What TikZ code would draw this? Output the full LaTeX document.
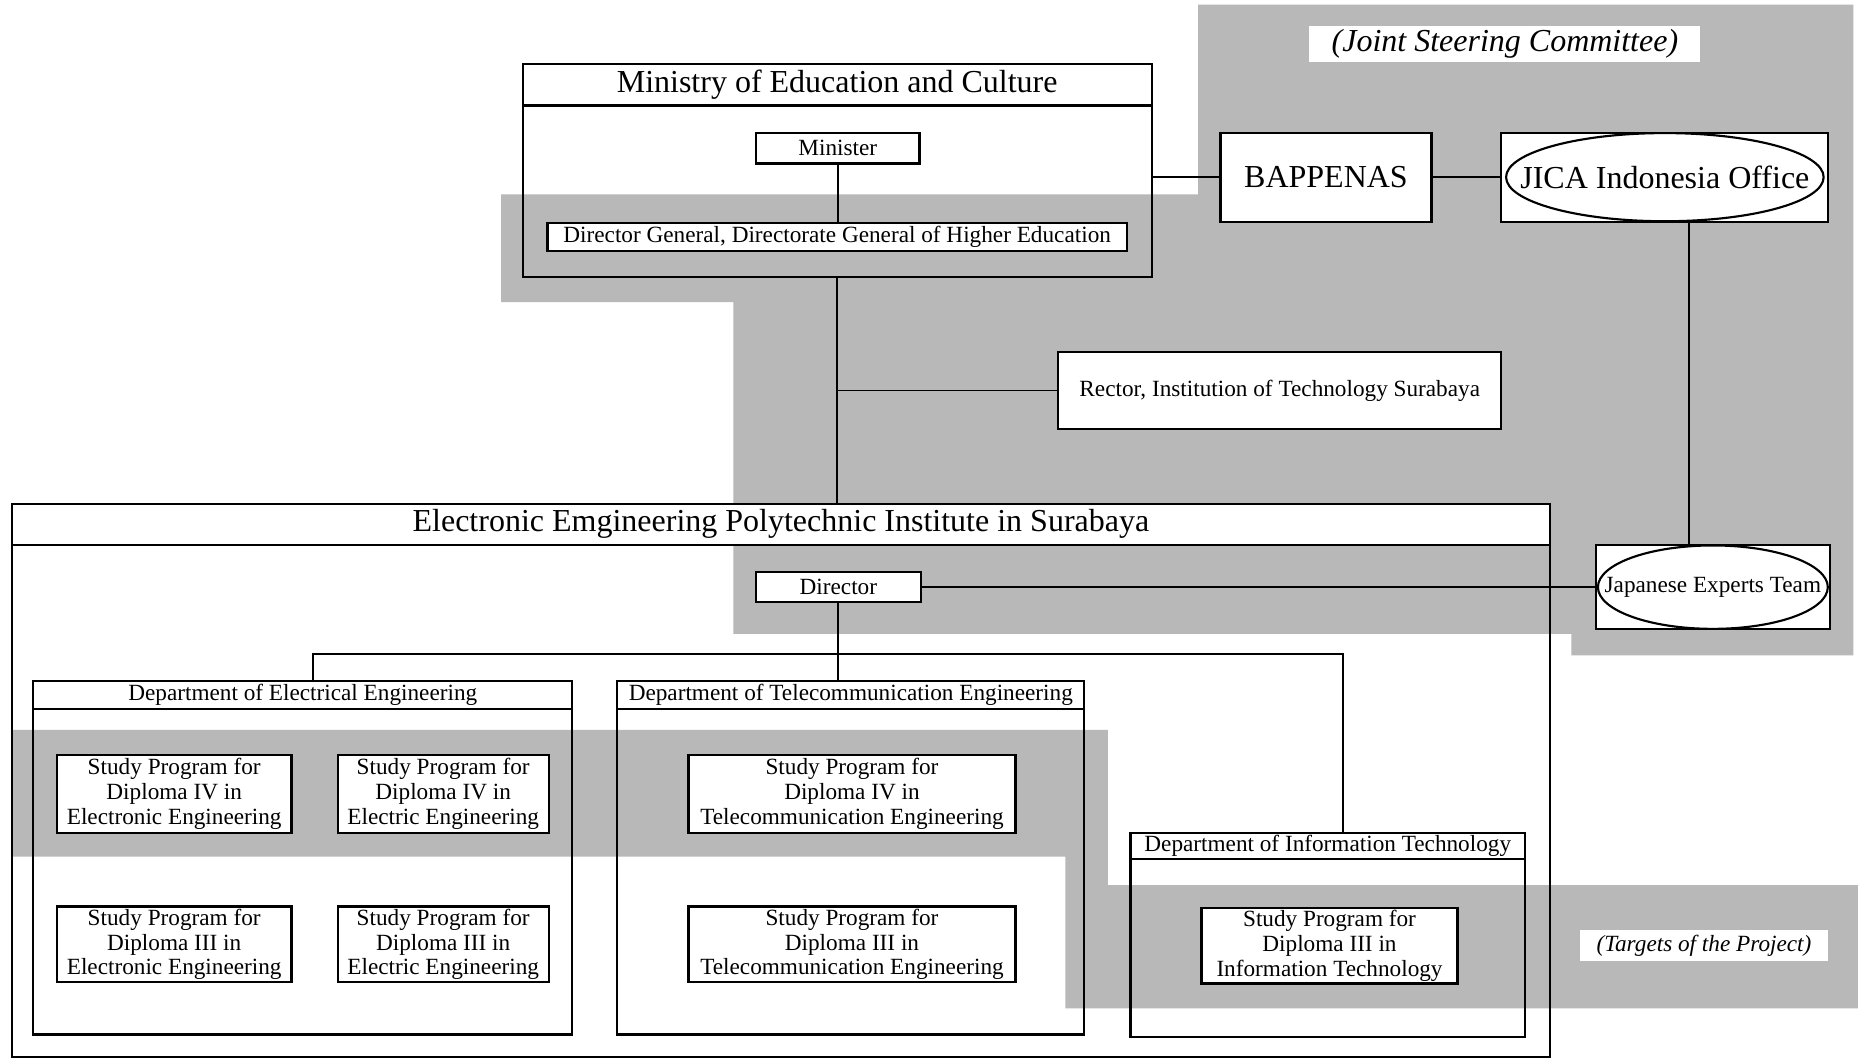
\documentclass[tikz,border=0pt]{standalone}
\usepackage{fontspec}
\setmainfont{Liberation Serif}
\begin{document}
\newcommand\bx[7][]{\node[#1,minimum width={(#5-#3)*0.5pt},minimum height={(#6-#4)*0.5pt}] (#2) at ({(#3+#5)/2},{(#4+#6)/2}) {#7};}
\begin{tikzpicture}[x=0.5pt,y=-0.5pt,
  every node/.style={inner sep=0pt,outer sep=0pt},
  shade/.style={fill=black!28,draw=none},
  frame/.style={draw,line width=0.9pt},
  box/.style={draw,line width=0.9pt,fill=white,align=center,font=\fontsize{9.8}{10.5}\selectfont},
  bigbox/.style={draw,line width=0.9pt,fill=white,align=center,font=\fontsize{13.5}{16}\selectfont},
  lab/.style={fill=white,align=center},
  conn/.style={line width=0.8pt}]
\useasboundingbox (0,0) rectangle (1568,895);
\fill[white] (0,0) rectangle (1568,895);
% shaded regions
\path[shade] (1011,4) -- (1564,4) -- (1564,553) -- (1326,553) -- (1326,535) -- (619,535)
  -- (619,255) -- (423,255) -- (423,164) -- (1011,164) -- cycle;
\path[shade] (11,616) -- (935,616) -- (935,747) -- (1568,747) -- (1568,851) -- (899,851)
  -- (899,723) -- (11,723) -- cycle;
% Ministry
\bx[frame]{min}{441}{54}{972}{234}{}
\bx[bigbox]{minh}{441}{54}{972}{89}{Ministry of Education and Culture}
\bx[box]{minister}{638}{112}{776}{138}{Minister}
\bx[box]{dg}{462}{188}{951}{212}{Director General, Directorate General of Higher Education}
% Steering committee
\node[lab,font=\fontsize{13.5}{16}\selectfont\itshape,minimum width=165pt,minimum height=15pt] (jsc) at (1270,37) {(Joint Steering Committee)};
\bx[bigbox]{bap}{1030}{112}{1208}{187}{BAPPENAS}
\bx[bigbox]{jica}{1267}{112}{1543}{187}{}
\draw[line width=0.9pt] (jica.center) ellipse [x radius=67pt,y radius=18.6pt];
\node[font=\fontsize{13.5}{16}\selectfont] (jicat) at (jica.center) {JICA Indonesia Office};
\bx[box]{rector}{893}{297}{1267}{362}{Rector, Institution of Technology Surabaya}
\bx[box]{jex}{1347}{460}{1544}{531}{}
\draw[line width=0.9pt] (jex.center) ellipse [x radius=48.5pt,y radius=17.6pt];
\node[font=\fontsize{9.8}{10.5}\selectfont] (jext) at (jex.center) {Japanese Experts Team};
% EEPIS
\bx[frame]{eepis}{10}{425}{1308}{892}{}
\bx[bigbox]{eepish}{10}{425}{1308}{460}{Electronic Emgineering Polytechnic Institute in Surabaya}
\bx[box]{dir}{638}{483}{777}{508}{Director}
% departments
\bx[frame]{d1}{28}{575}{483}{873}{}
\bx[box]{d1h}{28}{575}{483}{598}{Department of Electrical Engineering}
\bx[frame]{d2}{521}{575}{915}{873}{}
\bx[box]{d2h}{521}{575}{915}{598}{Department of Telecommunication Engineering}
\bx[frame]{d3}{954}{703}{1287}{875}{}
\bx[box]{d3h}{954}{703}{1287}{725}{Department of Information Technology}
% study programs
\bx[box]{s1}{48}{637}{246}{703}{Study Program for\\Diploma IV in\\Electronic Engineering}
\bx[box]{s2}{285}{637}{463}{703}{Study Program for\\Diploma IV in\\Electric Engineering}
\bx[box]{s3}{48}{765}{246}{829}{Study Program for\\Diploma III in\\Electronic Engineering}
\bx[box]{s4}{285}{765}{463}{829}{Study Program for\\Diploma III in\\Electric Engineering}
\bx[box]{s5}{581}{637}{857}{703}{Study Program for\\Diploma IV in\\Telecommunication Engineering}
\bx[box]{s6}{581}{765}{857}{829}{Study Program for\\Diploma III in\\Telecommunication Engineering}
\bx[box]{s7}{1014}{766}{1230}{830}{Study Program for\\Diploma III in\\Information Technology}
\node[lab,font=\fontsize{9.8}{10.5}\selectfont\itshape,minimum width=105pt,minimum height=13pt] (tgt) at (1438,798) {(Targets of the Project)};
% connectors
\coordinate (jx) at (1425,0);
\coordinate (b1) at (264,552);
\coordinate (b3) at (1133,552);
\draw[conn] (minister.south) -- (minister.south |- dg.north);
\draw[conn] (min.south) -- (min.south |- eepis.north);
\draw[conn] (rector.west) -- (rector.west -| min.south);
\draw[conn] (min.east |- bap.west) -- (bap.west);
\draw[conn] (bap.east) -- (jica.west);
\draw[conn] (jica.south -| jx) -- (jex.north -| jx);
\draw[conn] (dir.east) -- (dir.east -| jex.west);
\draw[conn] (dir.south) -- (dir.south |- b1);
\draw[conn] (b1 |- d1.north) -- (b1) -- (b3) -- (b3 |- d3.north);
\draw[conn] (dir.south |- b1) -- (dir.south |- d2.north);
\end{tikzpicture}
\end{document}
